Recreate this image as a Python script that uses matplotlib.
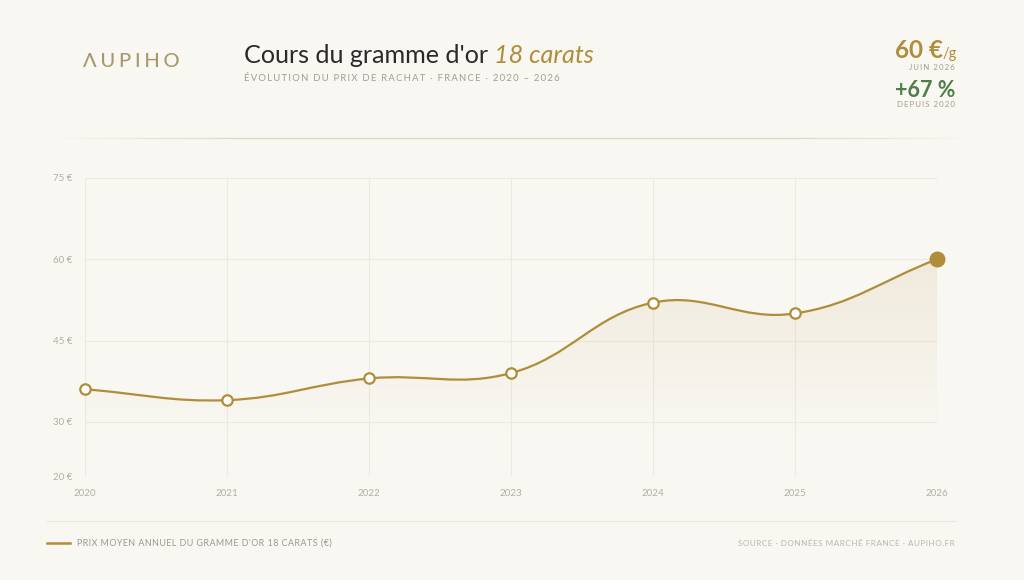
import numpy as np
import matplotlib
matplotlib.use('Agg')
import matplotlib.pyplot as plt
from matplotlib.path import Path
from matplotlib.patches import PathPatch
from matplotlib.lines import Line2D

# ---------------- data ----------------
years = [2020, 2021, 2022, 2023, 2024, 2025, 2026]
prices = [36, 34, 38, 39, 52, 50, 60]
y_ticks = [20, 30, 45, 60, 75]
y_tick_labels = ['20 €', '30 €', '45 €', '60 €', '75 €']
x_tick_labels = ['2020', '2021', '2022', '2023', '2024', '2025', '2026']

# ---------------- style ----------------
BG = '#f9f7f2'
GOLD = '#b08d3a'
LOGO = '#a8996c'
GREEN = '#4f7d4a'
GRID = '#ede9e1'
TICK = '#b3aea4'
SUB = '#a29d93'
FAM = ['Lato', 'DejaVu Sans']
W, H = 1024, 580


def fx(px):
    return px / W


def fy(py):
    return 1 - py / H


def spaced(s, sep='\u2009'):
    return sep.join(s)


fig = plt.figure(figsize=(W / 100, H / 100), dpi=100, facecolor=BG)
ax = fig.add_axes([fx(85), fy(476), (937 - 85) / W, (476 - 178) / H])
ax.set_facecolor(BG)
ax.set_xlim(years[0], years[-1])
ax.set_ylim(y_ticks[0], y_ticks[-1])
for s in ax.spines.values():
    s.set_visible(False)
ax.set_xticks(years, x_tick_labels)
ax.set_yticks(y_ticks, y_tick_labels)
ax.tick_params(length=0, colors=TICK, labelsize=7, pad=9)
for lab in ax.get_xticklabels() + ax.get_yticklabels():
    lab.set_family(FAM)
ax.grid(True, color=GRID, linewidth=0.8)
ax.set_axisbelow(True)

# ---------------- smooth curve (Chart.js-like tension 0.4) ----------------
pts = ax.transData.transform(np.column_stack([years, prices]))
t = 0.4
cps = []
n = len(pts)
for i in range(n):
    prev = pts[max(i - 1, 0)]
    cur = pts[i]
    nxt = pts[min(i + 1, n - 1)]
    d01 = np.hypot(*(cur - prev))
    d12 = np.hypot(*(nxt - cur))
    tot = d01 + d12
    s01 = d01 / tot if tot else 0
    s12 = d12 / tot if tot else 0
    cps.append((cur - t * s01 * (nxt - prev), cur + t * s12 * (nxt - prev)))

verts = [pts[0]]
codes = [Path.MOVETO]
for i in range(n - 1):
    verts += [cps[i][1], cps[i + 1][0], pts[i + 1]]
    codes += [Path.CURVE4] * 3
inv = ax.transData.inverted()
verts_d = inv.transform(np.array(verts))

line_path = Path(verts_d, codes)
ax.add_patch(PathPatch(line_path, facecolor='none', edgecolor=GOLD, lw=1.6,
                       transform=ax.transData, zorder=3, capstyle='round'))

fill_verts = np.vstack([verts_d, [[years[-1], y_ticks[0]], [years[0], y_ticks[0]], [years[0], prices[0]]]])
fill_codes = codes + [Path.LINETO, Path.LINETO, Path.CLOSEPOLY]
fill_patch = PathPatch(Path(fill_verts, fill_codes), facecolor='none', edgecolor='none',
                       transform=ax.transData)
ax.add_patch(fill_patch)
grad = np.zeros((256, 1, 4))
rgb = matplotlib.colors.to_rgb(GOLD)
grad[:, 0, 0:3] = rgb
grad[:, 0, 3] = np.linspace(0.18, 0.0, 256)
im = ax.imshow(grad, extent=[years[0], years[-1], 28, y_ticks[-1]],
               origin='upper', aspect='auto', zorder=2, interpolation='bilinear')
im.set_clip_path(fill_patch)
ax.set_xlim(years[0], years[-1])
ax.set_ylim(y_ticks[0], y_ticks[-1])

ax.plot(years[:-1], prices[:-1], linestyle='none', marker='o', ms=7.5,
        mfc='white', mec=GOLD, mew=1.6, zorder=4, clip_on=False)
ax.plot(years[-1:], prices[-1:], linestyle='none', marker='o', ms=10.5,
        mfc=GOLD, mec=GOLD, zorder=5, clip_on=False)

# ---------------- header ----------------
fig.text(fx(83), fy(67), spaced('ΛUPIHO', '\u2009\u200a'), family=FAM, fontsize=14.5,
         fontweight='medium', color=LOGO, va='baseline', ha='left')

renderer = fig.canvas.get_renderer()
t1 = fig.text(fx(244), fy(63), "Cours du gramme d'or ", family=FAM, fontweight='normal',
              fontsize=18.1, color='#2a2a2a', va='baseline', ha='left')
bb = t1.get_window_extent(renderer)
fig.text(bb.x1 / W, fy(63), '18 carats', family=FAM, fontweight='normal', style='italic',
         fontsize=18.1, color=GOLD, va='baseline', ha='left')
fig.text(fx(244), fy(81), spaced('ÉVOLUTION DU PRIX DE RACHAT · FRANCE · 2020 – 2026'),
         family=FAM, fontsize=6.85, color=SUB, va='baseline', ha='left')

# KPI block
tg = fig.text(fx(957), fy(58), '/g', family=FAM, fontsize=10.5, color=GOLD,
              va='baseline', ha='right')
bbg = tg.get_window_extent(renderer)
fig.text(bbg.x0 / W, fy(58), '60 €', family=FAM, fontweight='bold', fontsize=17.5,
         color=GOLD, va='baseline', ha='right')
fig.text(fx(955), fy(70), spaced('JUIN 2026'), family=FAM, fontsize=5.7, color=SUB,
         va='baseline', ha='right')
fig.text(fx(955), fy(97), '+67 %', family=FAM, fontweight='bold', fontsize=15.5,
         color=GREEN, va='baseline', ha='right')
fig.text(fx(955), fy(107), spaced('DEPUIS 2020'), family=FAM, fontsize=5.7, color=SUB,
         va='baseline', ha='right')

# separator lines
xs = np.linspace(60, 965, 300)
alpha = np.clip(np.minimum(xs - 60, 965 - xs) / 200, 0, 1)
for i in range(len(xs) - 1):
    fig.add_artist(Line2D([fx(xs[i]), fx(xs[i + 1])], [fy(138), fy(138)],
                          color='#e2d7bd', lw=0.9, alpha=float(alpha[i])))
fig.add_artist(Line2D([fx(47), fx(955)], [fy(521), fy(521)], color='#ece8df', lw=0.9))

# ---------------- legend / footer ----------------
fig.add_artist(Line2D([fx(47), fx(70)], [fy(543), fy(543)], color=GOLD, lw=1.8))
fig.text(fx(77), fy(543), spaced("PRIX MOYEN ANNUEL DU GRAMME D'OR 18 CARATS (€)", '\u200a'),
         family=FAM, fontsize=6.4, color='#9d988e', va='center', ha='left')
fig.text(fx(955), fy(543), spaced('SOURCE · DONNÉES MARCHÉ FRANCE · AUPIHO.FR', '\u200a'),
         family=FAM, fontsize=5.85, color='#bcb7ad', va='center', ha='right')

fig.savefig('out.png', dpi=100, facecolor=BG)
